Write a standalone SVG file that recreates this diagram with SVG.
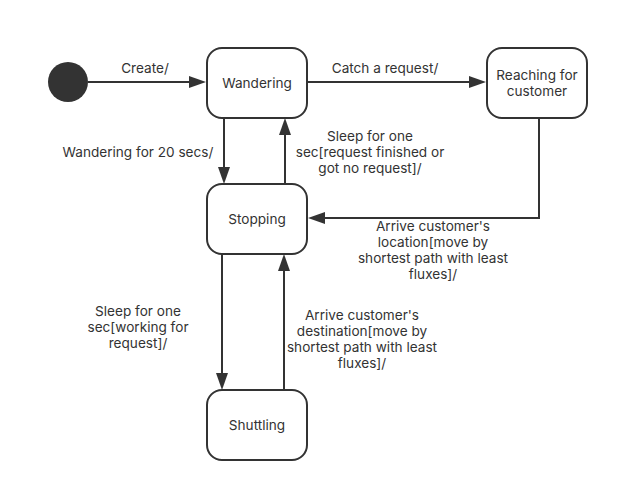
<svg xmlns="http://www.w3.org/2000/svg" width="620" height="492" viewBox="0 0 620 492">
<defs>
<style>
.st rect{fill:#fff;stroke:#333;stroke-width:2}
text{font-family:Inter,"Open Sans","Liberation Sans",sans-serif;font-size:13.6px;fill:#333;text-anchor:middle;dominant-baseline:central}
.c path{fill:none;stroke:#333;stroke-width:2}
.c polygon{fill:#333}
</style>
</defs>
<rect width="620" height="492" fill="#fff"/>
<g class="c">
<path d="M88,82 H192"/>
<polygon points="206,82 189,76 189,88"/>
<path d="M307,82 H472"/>
<polygon points="486,82 469,76 469,88"/>
<path d="M224,118 V170"/>
<polygon points="224,184 218,167 230,167"/>
<path d="M285,184 V133"/>
<polygon points="285,118 279,135 291,135"/>
<path d="M539,118 V218 H322"/>
<polygon points="308,218 325,212 325,224"/>
<path d="M222,254 V376"/>
<polygon points="222,390 216,373 228,373"/>
<path d="M284,390 V269"/>
<polygon points="284,254 278,271 290,271"/>
</g>
<g id="init"><circle cx="68" cy="82" r="20" fill="#333"/></g>
<g id="wandering" class="st"><rect x="207" y="48" width="100" height="70" rx="15"/><text x="257" y="83">Wandering</text></g>
<g id="reaching" class="st"><rect x="487" y="48" width="100" height="70" rx="15"/><text x="537" y="75">Reaching for</text><text x="537" y="91">customer</text></g>
<g id="stopping" class="st"><rect x="207" y="184" width="100" height="70" rx="15"/><text x="257" y="219">Stopping</text></g>
<g id="shuttling" class="st"><rect x="207" y="390" width="100" height="70" rx="15"/><text x="257" y="425">Shuttling</text></g>
<g id="labels">
<text x="145" y="68">Create/</text>
<text x="385" y="68">Catch a request/</text>
<text x="138" y="152">Wandering for 20 secs/</text>
<text x="370" y="136">Sleep for one</text>
<text x="370" y="152">sec[request finished or</text>
<text x="370" y="168">got no request]/</text>
<text x="433" y="226">Arrive customer's</text>
<text x="433" y="242">location[move by</text>
<text x="433" y="258">shortest path with least</text>
<text x="433" y="274">fluxes]/</text>
<text x="138" y="311">Sleep for one</text>
<text x="138" y="327">sec[working for</text>
<text x="138" y="343">request]/</text>
<text x="362" y="315">Arrive customer's</text>
<text x="362" y="331">destination[move by</text>
<text x="362" y="347">shortest path with least</text>
<text x="362" y="363">fluxes]/</text>
</g>
</svg>
